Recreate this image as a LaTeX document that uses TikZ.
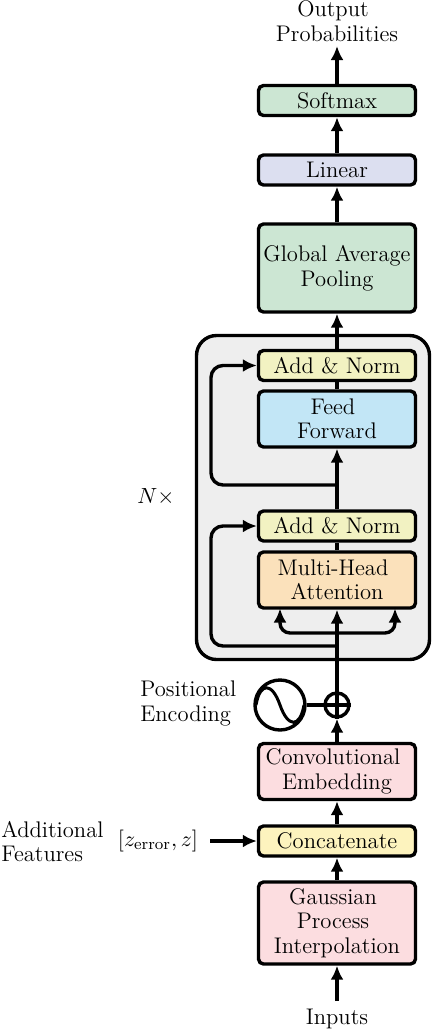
\documentclass[tikz,border=0pt]{standalone}
\usetikzlibrary{arrows.meta}
\definecolor{cgreen}{HTML}{CCE6D3}
\definecolor{cblue}{HTML}{DCDFF0}
\definecolor{cyel}{HTML}{F2F2C2}
\definecolor{csky}{HTML}{C2E6F6}
\definecolor{corange}{HTML}{FBE1BB}
\definecolor{cpink}{HTML}{FCDDE0}
\definecolor{ccat}{HTML}{FDF3BE}
\definecolor{cgray}{HTML}{EEEEEE}
\newcommand{\trail}{\rule{4pt}{0pt}}
\tikzset{
  every node/.style={font=\fontsize{11.3}{12.25}\selectfont},
  blockbox/.style={draw=black,line width=1.7pt,rounded corners=2.5pt,minimum width=78.5pt,inner sep=0pt,align=center},
  conn/.style={draw=black,line width=1.7pt},
  arr/.style={conn,-{Latex[length=7pt,width=6.5pt]}},
  lbl/.style={align=center,inner sep=0pt},
  lbll/.style={align=left,inner sep=0pt,anchor=west},
}
\begin{document}
\begin{tikzpicture}[x=0.5pt,y=-0.5pt]
\useasboundingbox (0,0) rectangle (432,1030);
% group
\node[draw=black,line width=1.7pt,rounded corners=10pt,fill=cgray,minimum width=116.5pt,minimum height=162pt,inner sep=0pt] (group) at (313,497.5) {};
% blocks
\node[blockbox,fill=cgreen,minimum height=15pt] (softmax) at (337,100.5) {Softmax};
\node[blockbox,fill=cblue,minimum height=15pt] (linear) at (337,170) {Linear};
\node[blockbox,fill=cgreen,minimum height=44pt] (gap) at (337,268) {Global Average\\Pooling};
\node[blockbox,fill=cyel,minimum height=15pt] (an1) at (337,365.5) {Add \& Norm};
\node[blockbox,fill=csky,minimum height=28pt] (ff) at (337,419) {Feed\trail\\Forward};
\node[blockbox,fill=cyel,minimum height=15pt] (an2) at (337,526) {Add \& Norm};
\node[blockbox,fill=corange,minimum height=28pt] (mha) at (337,580) {Multi-Head\trail\\Attention};
\node[blockbox,fill=cpink,minimum height=28pt] (conv) at (337,771.5) {Convolutional\trail\\Embedding};
\node[blockbox,fill=ccat,minimum height=15pt] (concat) at (337,841) {Concatenate};
\node[blockbox,fill=cpink,minimum height=41pt] (gp) at (337,923) {Gaussian\trail\\Process\trail\\Interpolation};
% texts
\node[lbl] (out) at (337,21) {Output\trail\\Probabilities};
\node[lbl] (inputs) at (337,1019) {Inputs};
\node[lbll] (addf) at (1,841.5) {Additional\\Features};
\node[lbl] (zf) at (158,841) {$[z_{\mathrm{error}},z]$};
\node[lbl] (nx) at (156,497) {$N\times$};
\node[lbll] (pe) at (140,703.5) {Positional\\Encoding};
% positional encoding
\node[draw=black,line width=1.7pt,circle,minimum size=25pt,inner sep=0pt] (sine) at (280,705) {};
\node[draw=black,line width=1.7pt,circle,minimum size=12pt,inner sep=0pt] (plus) at (337,705) {};
\draw[line width=1.5pt] (256,705) .. controls (260,682) and (272,682) .. (280,705) .. controls (288,728) and (300,728) .. (304,705);
\draw[conn] (plus.north) -- (plus.south);
\draw[conn] (plus.west) -- (plus.east);
\draw[conn] (sine) -- (plus);
% helper points
\coordinate (outend) at (337,46);
\coordinate (inend) at (337,1001);
\coordinate (zend) at (210,841);
\coordinate (branch) at (337,633);
\coordinate (res2) at (337,646);
\coordinate (res1) at (337,485);
\coordinate (lc2) at (211,646);
\coordinate (lc1) at (211,485);
\coordinate (mhal) at (280,608.5);
\coordinate (mhar) at (395,608.5);
% connectors
\draw[arr] (softmax) -- (outend);
\draw[arr] (linear) -- (softmax);
\draw[arr] (gap) -- (linear);
\draw[arr] (an1) -- (gap);
\draw[conn] (ff) -- (an1);
\draw[arr] (an2) -- (ff);
\draw[conn] (mha) -- (an2);
\draw[arr] (plus) -- (mha);
\draw[arr] (conv) -- (plus);
\draw[arr] (concat) -- (conv);
\draw[arr] (gp) -- (concat);
\draw[arr] (inend) -- (gp);
\draw[arr] (zend) -- (concat);
\draw[arr,rounded corners=5pt] (branch) -| (mhal);
\draw[arr,rounded corners=5pt] (branch) -| (mhar);
\draw[arr,rounded corners=6pt] (res2) -- (lc2) |- (an2);
\draw[arr,rounded corners=6pt] (res1) -- (lc1) |- (an1);
\end{tikzpicture}
\end{document}
